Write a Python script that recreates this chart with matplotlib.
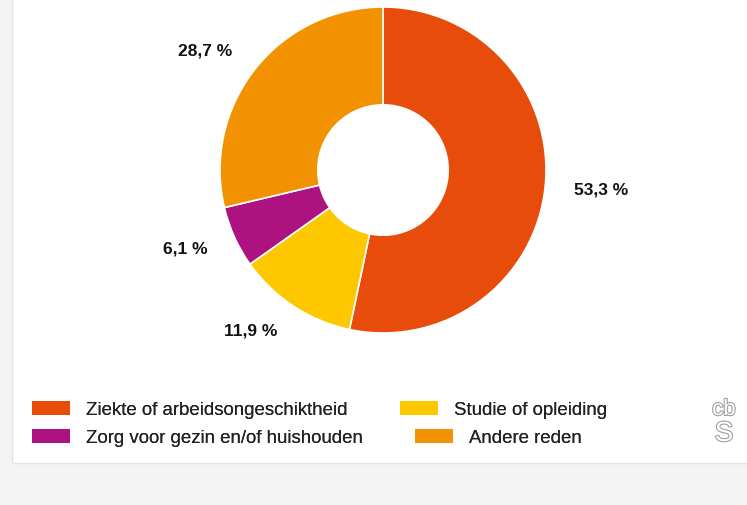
import matplotlib.pyplot as plt
import matplotlib.patches as mpatches
import matplotlib.patheffects as pe

plt.rcParams['font.family'] = ['Liberation Sans', 'DejaVu Sans']

categories = ["Ziekte of arbeidsongeschiktheid", "Studie of opleiding",
              "Zorg voor gezin en/of huishouden", "Andere reden"]
shares = [53.3, 11.9, 6.1, 28.7]
labels = ["53,3 %", "11,9 %", "6,1 %", "28,7 %"]
colors = ["#e84c0b", "#fdc800", "#ad1281", "#f39200"]

W, H = 747, 505
fig = plt.figure(figsize=(W / 100, H / 100), dpi=100, facecolor="#f3f3f3")

# white panel with light border, behind everything
panel = mpatches.Rectangle((12 / W, 1 - 463 / H), 1.0, 1.0, transform=fig.transFigure,
                           facecolor="white", edgecolor="#e3e3e3", linewidth=1, zorder=-5)
fig.patches.append(panel)

# donut: centre (383,170) px, radius 163 px
cx, cy, r = 383, 170, 163
ax = fig.add_axes([(cx - r) / W, 1 - (cy + r) / H, 2 * r / W, 2 * r / H])
ax.patch.set_visible(False)

wedges, texts = ax.pie(shares, labels=labels, colors=colors, startangle=90, counterclock=False,
                       radius=1, labeldistance=1.18,
                       wedgeprops=dict(width=0.6, edgecolor="white", linewidth=1.2),
                       textprops=dict(fontsize=12.5, fontweight="bold", color="#111111"))
ax.set_xlim(-1, 1)
ax.set_ylim(-1, 1)
ax.axis("off")

# legend, two rows laid out independently
rows = [(0, 1), (2, 3)]
ys = [410, 438]
for row, y in zip(rows, ys):
    handles = [mpatches.Patch(facecolor=colors[i], edgecolor="none") for i in row]
    leg = fig.legend(handles, [categories[i] for i in row], ncol=2, loc="center left",
                     bbox_to_anchor=(32 / W, 1 - y / H), frameon=False, fontsize=13.4,
                     borderpad=0, borderaxespad=0, handlelength=2.05, handleheight=0.8,
                     handletextpad=0.85, columnspacing=2.8)
    for t in leg.get_texts():
        t.set_color("#222222")
    fig.add_artist(leg)

# cbs logo (approximation)
stroke = [pe.withStroke(linewidth=1.5, foreground="#9a9a9a")]
fig.text(724 / W, 1 - 420 / H, "cb", ha="center", va="bottom", fontsize=16,
         color="white", path_effects=stroke)
fig.text(724 / W, 1 - 421 / H, "S", ha="center", va="top", fontsize=20,
         color="white", path_effects=stroke)

fig.savefig("out.png", dpi=100, facecolor=fig.get_facecolor())
